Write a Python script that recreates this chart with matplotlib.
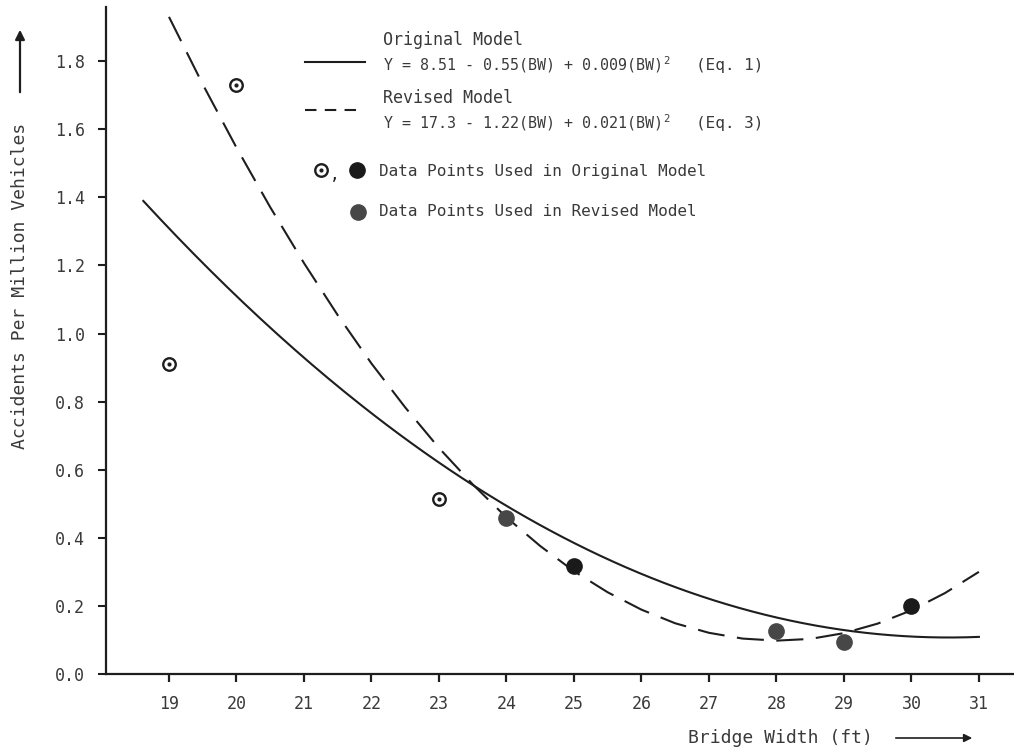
import numpy as np
import matplotlib
matplotlib.use("Agg")
import matplotlib.pyplot as plt

plt.rcParams['font.family'] = ['DejaVu Sans Mono']
plt.rcParams['mathtext.fontset'] = 'custom'
plt.rcParams['mathtext.rm'] = 'DejaVu Sans Mono'

INK = "#1e1e1e"
TEXT = "#3a3a3a"

# accident rates by bridge width
orig_only_x = [19, 20, 23]
orig_only_y = [0.91, 1.73, 0.515]
orig_filled_x = [25, 30]
orig_filled_y = [0.317, 0.20]
revised_x = [24, 28, 29]
revised_y = [0.458, 0.126, 0.094]

# original model (Eq. 1) coefficients and plotted range
orig_coef = [8.51, -0.55, 0.009]
orig_range = [18.62, 31.0]

# revised model curve as plotted
revised_curve_x = [19, 19.5, 20, 20.5, 21, 21.5, 22, 22.5, 23, 23.5, 24,
                   24.5, 25, 25.5, 26, 26.5, 27, 27.5, 28, 28.5, 29, 29.5,
                   30, 30.5, 31]
revised_curve_y = [1.93, 1.732, 1.546, 1.371, 1.207, 1.054, 0.912, 0.783,
                   0.664, 0.557, 0.46, 0.376, 0.302, 0.240, 0.189, 0.149,
                   0.121, 0.104, 0.098, 0.103, 0.12, 0.148, 0.187, 0.238,
                   0.30]

x_ticks = list(range(19, 32))
y_ticks = [0.0, 0.2, 0.4, 0.6, 0.8, 1.0, 1.2, 1.4, 1.6, 1.8]

fig = plt.figure(figsize=(10.14, 7.52), dpi=100)
ax = fig.add_axes([106 / 1014, 78 / 752, 908 / 1014, 667 / 752])

bw = np.linspace(orig_range[0], orig_range[1], 200)
acc = orig_coef[0] + orig_coef[1] * bw + orig_coef[2] * bw ** 2
ax.plot(bw, acc, color=INK, lw=1.5)
ax.plot(revised_curve_x, revised_curve_y, color=INK, lw=1.5,
        linestyle=(0, (13, 6)))

ax.plot(orig_only_x, orig_only_y, 'o', ms=9, mfc='white', mec=INK, mew=1.7)
ax.plot(orig_only_x, orig_only_y, 'o', ms=2, color=INK)
ax.plot(orig_filled_x, orig_filled_y, 'o', ms=11, color="#1a1a1a")
ax.plot(revised_x, revised_y, 'o', ms=11, color="#474747")

ax.set_xlim(18.067, 31.52)
ax.set_ylim(0, 1.959)
ax.set_xticks(x_ticks)
ax.set_yticks(y_ticks)
ax.set_yticklabels([f"{v:.1f}" for v in y_ticks])
for s in ['top', 'right']:
    ax.spines[s].set_visible(False)
for s in ['left', 'bottom']:
    ax.spines[s].set_linewidth(1.6)
    ax.spines[s].set_color(INK)
ax.tick_params(axis='x', length=6, width=1.6, pad=9, labelsize=12,
               color=INK, labelcolor=TEXT)
ax.tick_params(axis='y', length=6, width=1.5, pad=9, labelsize=12,
               color=INK, labelcolor=TEXT)

# legend block
tr = ax.transAxes
ax.plot([0.219, 0.285], [0.918, 0.918], color=INK, lw=1.5, transform=tr,
        clip_on=False)
ax.plot([0.219, 0.282], [0.846, 0.846], color=INK, lw=1.5, transform=tr,
        linestyle=(0, (5.5, 4)), clip_on=False)
fs = 11.5
eq_fs = 10.8
ax.text(0.305, 0.951, "Original Model", transform=tr, fontsize=12,
        color=TEXT, va='center')
ax.text(0.305, 0.913, "Y = 8.51 - 0.55(BW) + 0.009(BW)$^{2}$",
        transform=tr, fontsize=eq_fs, color=TEXT, va='center')
ax.text(0.650, 0.913, "(Eq. 1)", transform=tr, fontsize=fs, color=TEXT,
        va='center')
ax.text(0.305, 0.864, "Revised Model", transform=tr, fontsize=12,
        color=TEXT, va='center')
ax.text(0.305, 0.826, "Y = 17.3 - 1.22(BW) + 0.021(BW)$^{2}$",
        transform=tr, fontsize=eq_fs, color=TEXT, va='center')
ax.text(0.650, 0.826, "(Eq. 3)", transform=tr, fontsize=fs, color=TEXT,
        va='center')
ax.plot([0.237], [0.756], 'o', ms=9, mfc='white', mec=INK, mew=1.7,
        transform=tr, clip_on=False)
ax.plot([0.237], [0.756], 'o', ms=2, color=INK, transform=tr, clip_on=False)
ax.text(0.252, 0.748, ",", transform=tr, fontsize=fs, color=INK,
        va='center', ha='center')
ax.plot([0.276], [0.756], 'o', ms=11, color="#1a1a1a", transform=tr,
        clip_on=False)
ax.plot([0.278], [0.693], 'o', ms=11, color="#474747", transform=tr,
        clip_on=False)
ax.text(0.301, 0.753, "Data Points Used in Original Model", transform=tr,
        fontsize=fs, color=TEXT, va='center')
ax.text(0.301, 0.693, "Data Points Used in Revised Model", transform=tr,
        fontsize=fs, color=TEXT, va='center')

# axis titles with direction arrows
fig.text(20 / 1014, 1 - 286 / 752, "Accidents Per Million Vehicles",
         rotation=90, fontsize=13, color=TEXT, ha='center', va='center')
fig.text(688 / 1014, 1 - 738 / 752, "Bridge Width (ft)", fontsize=13,
         color=TEXT, ha='left', va='center')
ax.annotate("", xy=(20 / 1014, 1 - 27 / 752), xytext=(20 / 1014, 1 - 95 / 752),
            xycoords='figure fraction', textcoords='figure fraction',
            arrowprops=dict(arrowstyle='-|>', color=INK, lw=1.6,
                            mutation_scale=14))
ax.annotate("", xy=(975 / 1014, 1 - 738 / 752), xytext=(893 / 1014, 1 - 738 / 752),
            xycoords='figure fraction', textcoords='figure fraction',
            arrowprops=dict(arrowstyle='-|>', color=INK, lw=1.2,
                            mutation_scale=12))

fig.savefig("out.png", dpi=100, facecolor='white')
